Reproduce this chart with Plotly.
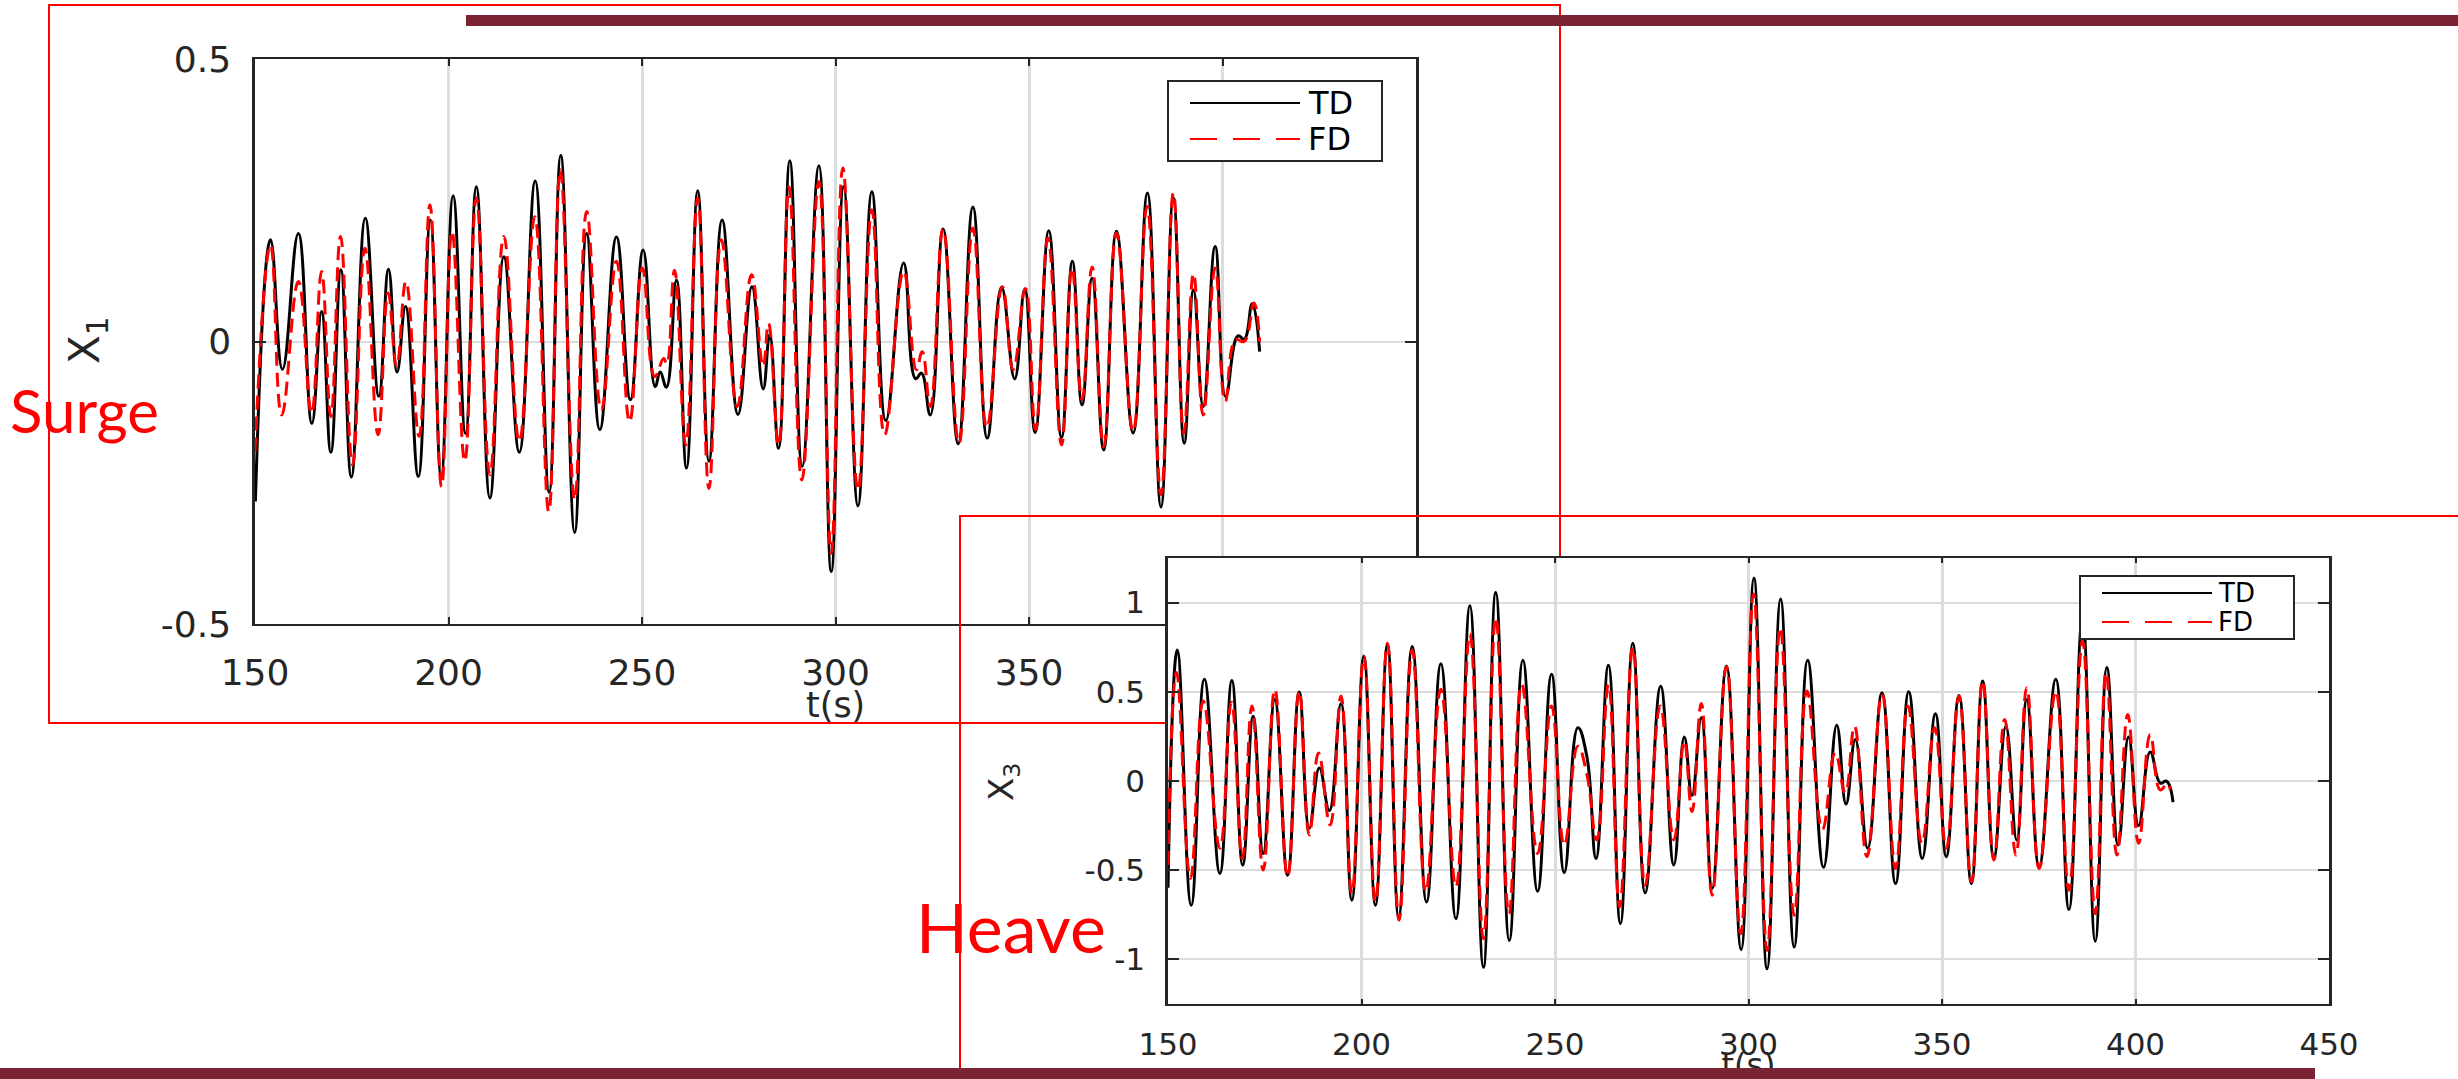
import plotly.graph_objects as go

W, H = 2458, 1079

# ---------------- data ----------------
x_tick_vals = [150, 200, 250, 300, 350, 400, 450]
x_tick_text = ["150", "200", "250", "300", "350", "400", "450"]
surge_tick_vals = [-0.5, 0, 0.5]
surge_tick_text = ["-0.5", "0", "0.5"]
heave_tick_vals = [-1, -0.5, 0, 0.5, 1]
heave_tick_text = ["-1", "-0.5", "0", "0.5", "1"]

# Surge X1 - time domain (turning points of the record)
surge_t_td = [150.1, 154.0, 157.1, 161.2, 164.7, 167.2, 169.6, 172.2, 174.9, 178.5,
              182.0, 184.5, 186.7, 188.9, 192.2, 195.3, 198.1, 201.2, 204.4, 207.2,
              210.7, 214.3, 218.3, 222.4, 226.0, 229.0, 232.6, 235.7, 239.1, 243.4,
              247.0, 250.3, 253.4, 254.7, 256.3, 258.9, 261.5, 264.4, 267.3, 270.7,
              274.8, 278.4, 281.3, 283.0, 285.3, 288.2, 291.4, 295.7, 298.9, 302.1,
              305.8, 309.4, 313.0, 317.6, 320.7, 322.2, 324.5, 327.8, 331.7, 335.5,
              339.2, 342.9, 346.3, 348.9, 351.6, 355.1, 358.4, 361.2, 363.7, 366.3,
              369.3, 372.6, 376.9, 380.6, 384.1, 387.3, 390.1, 392.5, 395.0, 398.1,
              400.8, 404.0, 405.6, 407.7, 409.6]
surge_td = [-0.283, 0.180, -0.049, 0.191, -0.145, 0.053, -0.196, 0.127, -0.240, 0.218,
            -0.097, 0.128, -0.054, 0.062, -0.239, 0.215, -0.239, 0.258, -0.163, 0.274,
            -0.277, 0.150, -0.196, 0.284, -0.267, 0.329, -0.338, 0.191, -0.156, 0.185,
            -0.103, 0.162, -0.080, -0.054, -0.081, 0.109, -0.224, 0.267, -0.212, 0.215,
            -0.129, 0.097, -0.084, 0.012, -0.189, 0.320, -0.221, 0.311, -0.407, 0.274,
            -0.291, 0.265, -0.140, 0.139, -0.066, -0.056, -0.130, 0.199, -0.181, 0.238,
            -0.171, 0.096, -0.066, 0.093, -0.161, 0.196, -0.170, 0.142, -0.112, 0.112,
            -0.192, 0.195, -0.162, 0.263, -0.293, 0.255, -0.180, 0.091, -0.115, 0.168,
            -0.097, 0.010, 0.004, 0.067, -0.018]

# Surge X1 - frequency domain
surge_t_fd = [150.0, 154.0, 156.9, 161.2, 164.6, 167.2, 169.6, 172.1, 175.2, 178.4,
              181.8, 184.4, 186.6, 189.0, 192.4, 195.2, 198.2, 200.9, 204.2, 207.2,
              210.7, 214.3, 218.3, 222.3, 225.9, 228.9, 232.6, 235.7, 239.5, 243.4,
              246.8, 250.1, 253.3, 255.6, 256.4, 258.4, 261.3, 264.4, 267.3, 270.5,
              274.6, 278.3, 281.3, 282.7, 285.3, 288.0, 291.3, 295.7, 298.9, 301.9,
              305.8, 309.4, 312.7, 317.6, 320.9, 322.4, 324.5, 327.8, 331.9, 335.5,
              339.1, 343.1, 345.9, 349.1, 351.7, 354.9, 358.4, 361.1, 363.7, 366.3,
              369.3, 372.6, 376.9, 380.5, 384.1, 387.3, 390.0, 392.5, 395.0, 398.1,
              400.7, 403.4, 405.6, 408.1, 409.6]
surge_fd = [-0.195, 0.171, -0.130, 0.106, -0.127, 0.124, -0.133, 0.186, -0.218, 0.165,
            -0.165, 0.086, -0.044, 0.106, -0.168, 0.242, -0.257, 0.195, -0.212, 0.254,
            -0.236, 0.186, -0.177, 0.221, -0.301, 0.304, -0.280, 0.230, -0.121, 0.142,
            -0.142, 0.130, -0.062, -0.030, -0.040, 0.126, -0.183, 0.254, -0.260, 0.180,
            -0.115, 0.118, -0.044, 0.032, -0.183, 0.274, -0.245, 0.283, -0.375, 0.307,
            -0.263, 0.233, -0.165, 0.124, -0.050, -0.018, -0.115, 0.199, -0.180, 0.201,
            -0.152, 0.097, -0.050, 0.094, -0.156, 0.183, -0.183, 0.130, -0.103, 0.132,
            -0.186, 0.192, -0.159, 0.239, -0.271, 0.263, -0.162, 0.120, -0.130, 0.130,
            -0.106, 0.003, 0.000, 0.068, 0.000]

# Heave X3 - time domain
heave_t_td = [150.0, 152.4, 156.0, 159.4, 163.4, 166.5, 169.3, 172.0, 174.6, 177.6,
              180.9, 183.9, 186.5, 189.1, 191.7, 194.7, 197.5, 200.6, 203.6, 206.7,
              209.6, 213.1, 216.8, 220.5, 224.4, 228.0, 231.5, 234.7, 238.2, 241.7,
              245.5, 249.1, 252.4, 255.9, 258.2, 260.6, 263.8, 266.9, 270.1, 273.3,
              277.3, 280.7, 283.4, 285.4, 287.8, 290.6, 294.3, 298.1, 301.4, 304.8,
              308.3, 311.8, 315.3, 319.4, 322.8, 325.2, 327.6, 330.8, 334.5, 338.0,
              341.4, 344.9, 348.3, 351.1, 354.4, 357.6, 360.5, 363.4, 366.5, 369.3,
              371.9, 375.1, 379.4, 382.8, 386.3, 389.6, 392.6, 395.5, 398.2, 400.8,
              403.8, 406.4, 408.0, 409.7]
heave_td = [-0.600, 0.734, -0.699, 0.569, -0.520, 0.563, -0.473, 0.362, -0.408, 0.456,
            -0.530, 0.498, -0.267, 0.071, -0.167, 0.434, -0.670, 0.700, -0.699, 0.766,
            -0.764, 0.753, -0.680, 0.657, -0.774, 0.982, -1.046, 1.057, -0.896, 0.676,
            -0.620, 0.597, -0.515, 0.297, 0.140, -0.436, 0.648, -0.802, 0.772, -0.629,
            0.531, -0.473, 0.246, -0.083, 0.353, -0.605, 0.644, -0.948, 1.136, -1.055,
            1.020, -0.933, 0.676, -0.486, 0.312, -0.131, 0.231, -0.379, 0.494, -0.577,
            0.500, -0.436, 0.376, -0.426, 0.479, -0.577, 0.560, -0.432, 0.306, -0.332,
            0.456, -0.483, 0.569, -0.723, 0.920, -0.900, 0.635, -0.361, 0.246, -0.252,
            0.162, -0.013, -0.002, -0.120]

# Heave X3 - frequency domain
heave_t_fd = [150.0, 152.2, 155.8, 159.1, 163.4, 166.4, 169.2, 171.7, 174.6, 177.6,
              180.9, 183.9, 186.5, 188.9, 191.9, 194.7, 197.5, 200.6, 203.6, 206.7,
              209.7, 213.1, 216.6, 220.5, 224.4, 228.0, 231.5, 234.7, 238.1, 241.4,
              245.5, 249.1, 252.4, 255.9, 258.2, 260.8, 263.8, 266.7, 270.1, 273.3,
              277.2, 280.7, 283.4, 285.4, 287.8, 290.6, 294.3, 298.0, 301.3, 304.8,
              308.2, 311.8, 315.1, 319.1, 322.4, 325.0, 327.4, 330.6, 334.5, 338.0,
              341.2, 344.8, 348.1, 351.1, 354.4, 357.6, 360.5, 363.4, 366.2, 369.1,
              371.9, 375.1, 379.4, 382.8, 386.3, 389.6, 392.4, 395.2, 398.0, 400.8,
              403.8, 406.4, 408.2, 409.0]
heave_fd = [-0.473, 0.607, -0.548, 0.447, -0.379, 0.441, -0.436, 0.419, -0.501, 0.513,
            -0.539, 0.503, -0.304, 0.156, -0.248, 0.475, -0.633, 0.697, -0.680, 0.772,
            -0.783, 0.734, -0.623, 0.513, -0.595, 0.823, -0.886, 0.916, -0.746, 0.541,
            -0.408, 0.419, -0.361, 0.193, 0.040, -0.332, 0.541, -0.708, 0.747, -0.586,
            0.419, -0.332, 0.222, -0.173, 0.434, -0.642, 0.640, -0.858, 1.048, -0.952,
            0.860, -0.755, 0.503, -0.272, 0.156, -0.069, 0.306, -0.426, 0.484, -0.492,
            0.419, -0.351, 0.297, -0.379, 0.475, -0.567, 0.560, -0.445, 0.344, -0.417,
            0.522, -0.492, 0.503, -0.614, 0.785, -0.746, 0.607, -0.417, 0.372, -0.351,
            0.259, -0.051, -0.017, -0.050]

series_names = ["TD", "FD"]

# ---------------- styling helpers ----------------
AX = "#262626"
GRID = "#dcdcdc"
RED = "#ff0000"
MAROON = "#7a2332"
TICK_FONT = "DejaVu Sans"
LABEL_FONT = "Liberation Sans Narrow, Lato, sans-serif"


def px(x):
    return x / W


def py(y):
    return 1 - y / H


def td_line():
    return dict(color="black", width=3, shape="spline", smoothing=1.3, simplify=False)


def fd_line():
    return dict(color=RED, width=3, dash="14px,7px", shape="spline", smoothing=1.3,
                simplify=False)


fig = go.Figure()

fig.add_trace(go.Scatter(x=surge_t_td, y=surge_td, name=series_names[0], mode="lines",
                         line=td_line(), xaxis="x", yaxis="y", hoverinfo="skip"))
fig.add_trace(go.Scatter(x=surge_t_fd, y=surge_fd, name=series_names[1], mode="lines",
                         line=fd_line(), xaxis="x", yaxis="y", hoverinfo="skip"))
fig.add_trace(go.Scatter(x=heave_t_td, y=heave_td, name=series_names[0], mode="lines",
                         line=td_line(), xaxis="x2", yaxis="y2", hoverinfo="skip"))
fig.add_trace(go.Scatter(x=heave_t_fd, y=heave_fd, name=series_names[1], mode="lines",
                         line=fd_line(), xaxis="x2", yaxis="y2", hoverinfo="skip"))

# x-axis title of the heave panel, placed in a thin strip under the panel so that it
# stays in the plot layer and the footer bar is painted over its lower half
fig.add_trace(go.Scatter(x=[0.5], y=[0.28], mode="text", text=["t(s)"],
                         textposition="middle center", cliponaxis=False,
                         textfont=dict(family=TICK_FONT, size=32, color=AX),
                         xaxis="x3", yaxis="y3", hoverinfo="skip"))


def axis(domain, rng, vals, text, size, ticklen, gridwidth, linewidth, standoff, anchor):
    return dict(domain=domain, range=rng, anchor=anchor, tickmode="array",
                tickvals=vals, ticktext=text, showline=True, linecolor=AX,
                linewidth=linewidth, mirror="ticks", ticks="inside", ticklen=ticklen,
                tickwidth=2, tickcolor=AX, showgrid=True, gridcolor=GRID,
                gridwidth=gridwidth, zeroline=False, ticklabelstandoff=standoff,
                automargin=False,
                tickfont=dict(family=TICK_FONT, size=size, color=AX), fixedrange=True)


fig.update_layout(
    template="none",
    width=W, height=H, autosize=False,
    margin=dict(l=0, r=0, t=0, b=0, pad=0, autoexpand=False),
    paper_bgcolor="white", plot_bgcolor="rgba(0,0,0,0)", showlegend=False,
    xaxis=axis([px(255), px(1416)], [150, 450], x_tick_vals, x_tick_text,
               36, 7, 2.5, 2, 16, "y"),
    yaxis=axis([py(624), py(59)], [-0.5, 0.5], surge_tick_vals, surge_tick_text,
               36, 11, 1.8, 2.5, 14, "x"),
    xaxis2=axis([px(1168), px(2329)], [150, 450], x_tick_vals, x_tick_text,
                31, 5, 2.5, 2, 12, "y2"),
    yaxis2=axis([py(1003.5), py(558)], [-1.25, 1.25], heave_tick_vals, heave_tick_text,
                31, 11, 1.8, 2.5, 14, "x2"),
    xaxis3=dict(domain=[px(1168), px(2329)], range=[0, 1], anchor="y3",
                visible=False, automargin=False, fixedrange=True),
    yaxis3=dict(domain=[0, py(1040)], range=[0, 1], anchor="x3",
                visible=False, automargin=False, fixedrange=True),
)

# frame of the heave panel: only its left and top edges fall inside the page
hx, hy = px(960), py(516)
heave_frame = f"M {hx:.5f},0 L {hx:.5f},{hy:.5f} L 1,{hy:.5f}"

shapes = [
    # frame around the surge panel (underneath the heave panel)
    dict(type="rect", xref="paper", yref="paper", layer="below",
         x0=px(49), x1=px(1560), y0=py(723), y1=py(5),
         line=dict(color=RED, width=2), fillcolor="rgba(0,0,0,0)"),
    # opaque plot area of the heave panel
    dict(type="rect", xref="x2", yref="y2", layer="below",
         x0=150, x1=450, y0=-1.25, y1=1.25,
         line=dict(width=0), fillcolor="white"),
    dict(type="path", xref="paper", yref="paper", layer="above", path=heave_frame,
         line=dict(color=RED, width=2)),
    # header and footer bars
    dict(type="rect", xref="paper", yref="paper", layer="above",
         x0=px(466), x1=1.0, y0=py(26), y1=py(15),
         line=dict(width=0), fillcolor=MAROON),
    dict(type="rect", xref="paper", yref="paper", layer="above",
         x0=0.0, x1=px(2315), y0=0.0, y1=py(1068),
         line=dict(width=0), fillcolor=MAROON),
]

annotations = []


def add_legend(x0, x1, y0, y1, lx0, lx1, ty, fy, tx, fsize, dash):
    shapes.append(dict(type="rect", xref="paper", yref="paper", layer="above",
                       x0=px(x0), x1=px(x1), y0=py(y1), y1=py(y0),
                       line=dict(color=AX, width=2), fillcolor="white"))
    shapes.append(dict(type="line", xref="paper", yref="paper", layer="above",
                       x0=px(lx0), x1=px(lx1), y0=py(ty), y1=py(ty),
                       line=dict(color="black", width=2)))
    shapes.append(dict(type="line", xref="paper", yref="paper", layer="above",
                       x0=px(lx0), x1=px(lx1), y0=py(fy), y1=py(fy),
                       line=dict(color=RED, width=2, dash=dash)))
    for name, yy in zip(series_names, [ty, fy]):
        annotations.append(dict(x=px(tx), y=py(yy), xref="paper", yref="paper",
                                text=name, showarrow=False, xanchor="left",
                                yanchor="middle",
                                font=dict(family=TICK_FONT, size=fsize, color="black")))


add_legend(1168, 1382, 81, 161, 1190, 1300, 103, 139, 1306, 32, "27px,16px")
add_legend(2080, 2294, 576, 639, 2102, 2212, 593, 622, 2216, 26, "27px,16px")

# axis titles
annotations += [
    dict(x=px(835.5), y=py(705), xref="paper", yref="paper", text="t(s)",
         showarrow=False, xanchor="center", yanchor="middle",
         font=dict(family=TICK_FONT, size=35, color=AX)),
    dict(x=px(88), y=py(341), xref="paper", yref="paper", text="X<sub>1</sub>",
         showarrow=False, textangle=-90, xanchor="center", yanchor="middle",
         font=dict(family=TICK_FONT, size=42, color=AX)),
    dict(x=px(1003), y=py(782), xref="paper", yref="paper", text="X<sub>3</sub>",
         showarrow=False, textangle=-90, xanchor="center", yanchor="middle",
         font=dict(family=TICK_FONT, size=34, color=AX)),
    # motion labels
    dict(x=px(8), y=py(410), xref="paper", yref="paper", text="Surge",
         showarrow=False, xanchor="left", yanchor="middle",
         font=dict(family=LABEL_FONT, size=60, color=RED)),
    dict(x=px(914), y=py(926), xref="paper", yref="paper", text="Heave",
         showarrow=False, xanchor="left", yanchor="middle",
         font=dict(family=LABEL_FONT, size=68, color=RED)),
]

fig.update_layout(shapes=shapes, annotations=annotations)

fig.write_html("out.html")
